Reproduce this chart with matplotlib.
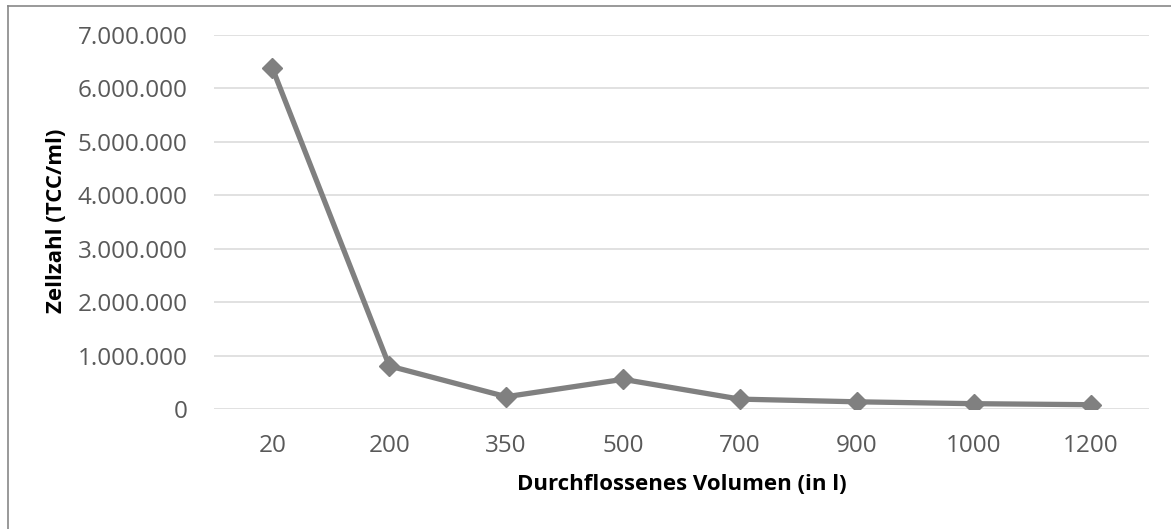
import matplotlib
matplotlib.use("Agg")
import matplotlib.pyplot as plt
from matplotlib.ticker import FuncFormatter, MultipleLocator
from matplotlib.lines import Line2D

plt.rcParams['font.family'] = ['Open Sans', 'DejaVu Sans']

volumes = ["20", "200", "350", "500", "700", "900", "1000", "1200"]
cell_counts = [6370000, 810000, 235000, 560000, 190000, 140000, 105000, 86000]

x_title = "Durchflossenes Volumen (in l)"
y_title = "Zellzahl (TCC/ml)"

W, H = 1171, 529
fig = plt.figure(figsize=(W / 100, H / 100), dpi=100)
ax = fig.add_axes([214 / W, 1 - 409.3 / H, (1149 - 214) / W, (409.3 - 34.7) / H])

x = list(range(len(volumes)))
ax.plot(x, cell_counts, color="#808080", linewidth=3.8, marker="D",
        markersize=10.5, markerfacecolor="#808080", markeredgecolor="#808080",
        solid_joinstyle="round", zorder=3)

ax.set_xlim(-0.5, len(volumes) - 0.5)
ax.set_ylim(0, 7000000)
ax.yaxis.set_major_locator(MultipleLocator(1000000))
ax.yaxis.set_major_formatter(FuncFormatter(lambda v, p: f"{int(v):,}".replace(",", ".")))
ax.set_xticks(x)
ax.set_xticklabels(volumes)

ax.grid(axis="y", color="#d9d9d9", linewidth=1.1)
ax.set_axisbelow(True)
for s in ax.spines.values():
    s.set_visible(False)
ax.tick_params(axis="both", length=0, labelsize=17.5, labelcolor="#595959")
ax.tick_params(axis="y", pad=19)
ax.tick_params(axis="x", pad=17.5)

ax.set_xlabel(x_title, fontsize=16, fontweight="bold", color="black", va="center")
ax.set_ylabel(y_title, fontsize=16, fontweight="bold", color="black", va="center")
ax.xaxis.set_label_coords(681.5 / W, 1 - 485 / H, transform=fig.transFigure)
ax.yaxis.set_label_coords(57 / W, 1 - 220.5 / H, transform=fig.transFigure)

# chart-area frame (left and top edges visible)
fig.add_artist(Line2D([7.5 / W, 7.5 / W], [0, 1 - 5.5 / H], transform=fig.transFigure,
                      color="#878787", linewidth=1.2))
fig.add_artist(Line2D([7.5 / W, 1], [1 - 5.5 / H, 1 - 5.5 / H], transform=fig.transFigure,
                      color="#878787", linewidth=1.2))

fig.savefig("out.png", dpi=100)
